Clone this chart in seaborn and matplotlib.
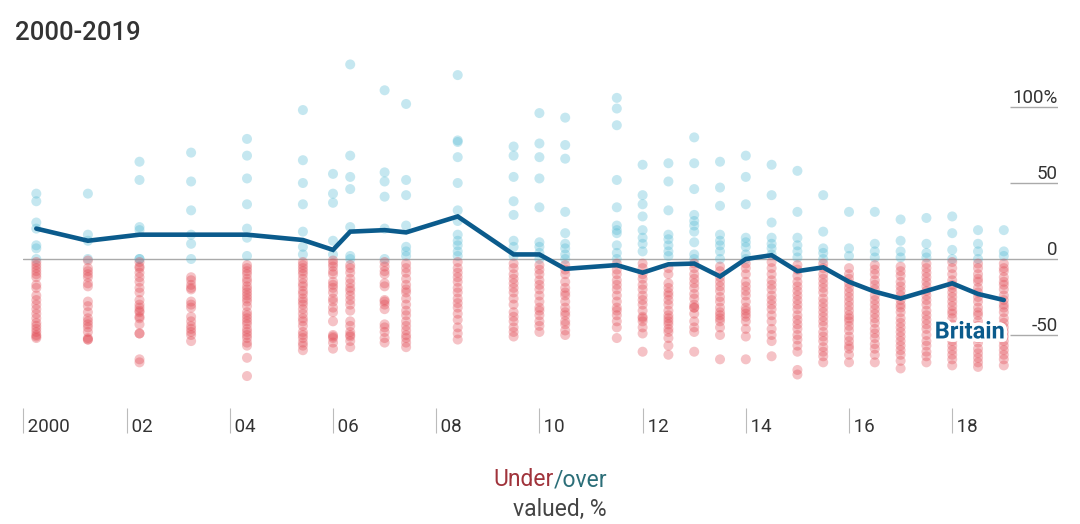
import matplotlib
matplotlib.use("Agg")
import matplotlib.pyplot as plt
import matplotlib.patheffects as pe
import seaborn as sns
import pandas as pd

# ---------------- data ----------------
dates = ["2000-04", "2001-04", "2002-04", "2003-04", "2004-05", "2005-06",
         "2006-01", "2006-05", "2007-01", "2007-06", "2008-06", "2009-07",
         "2010-01", "2010-07", "2011-07", "2012-01", "2012-07", "2013-01",
         "2013-07", "2014-01", "2014-07", "2015-01", "2015-07", "2016-01",
         "2016-07", "2017-01", "2017-07", "2018-01", "2018-07", "2019-01"]

britain = [20, 12, 16, 16, 16, 12.5, 6, 18, 19, 17.5, 28, 3,
           3, -6.5, -4, -9, -3.5, -3, -11.5, 0, 2.5, -8, -5.5, -15,
           -21.5, -26, -21, -16, -23, -27]

v2000_04 = [43, 38, 24, 20, 9, 7, 0, -2, -4, -6, -8, -10, -12, -17, -19, -24, -27,
            -30, -33, -36, -39, -42, -44, -46, -48, -50, -51, -52]
v2001_04 = [43, 16, 12, 0, -1, -6, -8, -10, -12, -16, -18, -28, -31, -35, -39, -41,
            -43, -45, -48, -52, -53, -53]
v2002_04 = [64, 52, 21, 19, 0, 0, -2, -5, -6, -9, -12, -15, -19, -22, -27, -30, -32,
            -34, -35, -38, -39, -43, -49, -49, -66, -68]
v2003_04 = [70, 51, 32, 16, 10, 0, -12, -14, -17, -19, -20, -28, -30, -32, -38, -41,
            -44, -46, -48, -50, -54]
v2004_05 = [79, 68, 53, 36, 20, 14, 2, -4, -6, -8, -10, -13, -15, -18, -20, -22, -24,
            -26, -28, -31, -35, -37, -39, -41, -43, -46, -48, -50, -52, -55, -57, -65, -77]
v2005_06 = [98, 65, 50, 36, 18, 8, 3, -2, -4, -6, -8, -10, -13, -16, -18, -21, -23,
            -26, -28, -30, -33, -36, -39, -41, -44, -48, -50, -52, -55, -57, -60]
v2006_01 = [56, 43, 37, 12, 3, -1, -3, -5, -8, -10, -15, -17, -19, -22, -26, -28, -32,
            -35, -41, -50, -51, -52, -55, -59]
v2006_05 = [128, 68, 54, 46, 21, 2, 0, -4, -6, -9, -13, -16, -19, -21, -24, -27, -30,
            -34, -41, -44, -48, -50, -51, -54, -58]
v2007_01 = [111, 57, 51, 41, 20, 0, -2, -5, -8, -10, -16, -18, -27, -28, -30, -33,
            -43, -45, -48, -52, -55]
v2007_06 = [102, 52, 42, 22, 8, 5, 2, -3, -6, -9, -13, -17, -20, -22, -26, -30, -34,
            -37, -41, -44, -47, -50, -52, -55, -58]
v2008_06 = [121, 78, 77, 67, 50, 32, 25, 16, 12, 9, 5, 2, -2, -6, -9, -12, -15, -19,
            -22, -26, -29, -32, -36, -40, -45, -49, -53]
v2009_07 = [74, 68, 54, 38, 29, 12, 8, 2, -3, -6, -10, -13, -16, -19, -22, -26, -30,
            -35, -38, -41, -45, -48, -51]
v2010_01 = [96, 76, 67, 53, 34, 11, 8, 4, 0, -4, -7, -10, -14, -17, -20, -24, -28,
            -32, -34, -37, -41, -44, -48]
v2010_07 = [93, 75, 66, 31, 17, 10, 7, 3, 0, -4, -7, -10, -15, -19, -22, -24, -28,
            -32, -35, -37, -41, -43, -47, -50]
v2011_07 = [106, 99, 88, 52, 34, 22, 19, 17, 9, 4, 0, -3, -7, -10, -14, -17, -20,
            -24, -28, -32, -34, -37, -41, -45, -52]
v2012_01 = [62, 42, 36, 28, 19, 14, 10, 5, -3, -6, -10, -13, -17, -20, -24, -27, -30,
            -34, -38, -39, -41, -45, -49, -61]
v2012_07 = [63, 51, 32, 16, 13, 9, 5, 2, -6, -10, -16, -19, -22, -24, -27, -30, -34,
            -37, -39, -41, -43, -46, -48, -52, -57, -63]
v2013_01 = [80, 63, 46, 29, 25, 22, 18, 11, 3, 0, -3, -6, -10, -13, -16, -19, -23,
            -26, -30, -32, -32, -36, -41, -45, -48, -61]
v2013_07 = [64, 47, 35, 16, 12, 9, 5, 0, -5, -8, -12, -15, -18, -21, -25, -28, -32,
            -35, -37, -39, -41, -45, -50, -66]
v2014_01 = [68, 54, 36, 14, 11, 8, 3, 0, -3, -6, -10, -15, -18, -21, -24, -28, -32,
            -34, -36, -38, -41, -46, -51, -66]
v2014_07 = [62, 42, 24, 14, 10, 7, 3, -2, -6, -10, -14, -17, -20, -24, -27, -30, -33,
            -37, -41, -46, -50, -54, -64]
v2015_01 = [58, 31, 14, 9, 5, 1, -4, -7, -11, -15, -18, -21, -24, -27, -30, -33, -37,
            -40, -43, -46, -50, -53, -57, -61, -73, -76]
v2015_07 = [42, 18, 7, 4, 0, -3, -6, -10, -13, -16, -19, -22, -26, -29, -32, -35, -38,
            -41, -44, -48, -51, -54, -58, -61, -64, -68]
v2016_01 = [31, 7, 2, -6, -10, -13, -16, -19, -22, -25, -28, -31, -34, -37, -39, -41,
            -44, -47, -51, -54, -57, -59, -63, -68]
v2016_07 = [31, 10, 5, 1, -4, -7, -10, -14, -17, -20, -24, -27, -30, -33, -36, -39,
            -42, -46, -49, -52, -56, -59, -63, -68]
v2017_01 = [26, 12, 5, 1, -5, -8, -11, -15, -18, -21, -24, -27, -30, -32, -35, -39,
            -42, -45, -48, -51, -54, -57, -60, -63, -67, -72]
v2017_07 = [27, 10, 4, 1, -3, -6, -9, -12, -15, -18, -21, -24, -27, -30, -34, -37,
            -40, -43, -46, -50, -54, -57, -61, -64, -68]
v2018_01 = [28, 17, 6, 0, -2, -6, -10, -14, -17, -19, -22, -25, -28, -31, -34, -36,
            -39, -43, -46, -50, -54, -57, -60, -63, -66, -70]
v2018_07 = [19, 10, 5, 0, -3, -6, -10, -13, -15, -19, -22, -25, -28, -32, -35, -37,
            -41, -44, -48, -52, -55, -59, -62, -65, -68, -71]
v2019_01 = [19, 5, 2, -3, -6, -8, -12, -15, -17, -20, -24, -27, -30, -32, -35, -39,
            -42, -45, -48, -51, -54, -57, -60, -63, -66, -70]

columns = [v2000_04, v2001_04, v2002_04, v2003_04, v2004_05, v2005_06,
           v2006_01, v2006_05, v2007_01, v2007_06, v2008_06, v2009_07,
           v2010_01, v2010_07, v2011_07, v2012_01, v2012_07, v2013_01,
           v2013_07, v2014_01, v2014_07, v2015_01, v2015_07, v2016_01,
           v2016_07, v2017_01, v2017_07, v2018_01, v2018_07, v2019_01]

tick_years = [2000, 2002, 2004, 2006, 2008, 2010, 2012, 2014, 2016, 2018]
tick_labels = ["2000", "02", "04", "06", "08", "10", "12", "14", "16", "18"]
y_ticks = [100, 50, 0, -50]
y_labels = ["100%", "50", "0", "-50"]

# ---------------- build frames ----------------
def dec_year(d):
    y, m = d.split("-")
    return int(y) + (int(m) - 1) / 12.0

rows = []
for d, vals in zip(dates, columns):
    for v in vals:
        rows.append({"date": dec_year(d), "value": v,
                     "side": "over" if v >= 0 else "under"})
df = pd.DataFrame(rows)
df_gb = pd.DataFrame({"date": [dec_year(d) for d in dates], "value": britain})

# ---------------- style ----------------
sns.set_theme(style="white")
plt.rcParams["font.family"] = ["Roboto", "DejaVu Sans"]

RED = "#e14852"
CYAN = "#50b9d2"
BLUE = "#0b5b8c"
TXT = "#333333"
GRID = "#aaaaaa"

W, H = 1080, 524
fig = plt.figure(figsize=(W / 100, H / 100), dpi=100)
left_px, right_px, top_px, bot_px = 23.4, 1058, 53.8, 388.2
ax = fig.add_axes([left_px / W, 1 - bot_px / H,
                   (right_px - left_px) / W, (bot_px - top_px) / H])

ax.axhline(0, color=GRID, lw=1.0, zorder=1)
ax.hlines([100, 50, -50], 0.954, 1.0, transform=ax.get_yaxis_transform(),
          color=GRID, lw=1.0, zorder=1)

sns.scatterplot(data=df, x="date", y="value", hue="side",
                palette={"under": RED, "over": CYAN}, s=52, alpha=0.33,
                linewidth=0, legend=False, ax=ax, zorder=2)
sns.lineplot(data=df_gb, x="date", y="value", color=BLUE, lw=3.3,
             ax=ax, zorder=4, solid_joinstyle="miter")

ax.text(2019.02, -48, "Britain", ha="right", va="center", color=BLUE,
        fontsize=17, fontweight="semibold", zorder=5,
        path_effects=[pe.withStroke(linewidth=5, foreground="white")])

ax.set_xlim(2000, 2020.05)
ax.set_ylim(-85, 135)
ax.set_xlabel("")
ax.set_ylabel("")

for s in ["top", "left", "right"]:
    ax.spines[s].set_visible(False)
ax.spines["bottom"].set_position(("outward", 32.4))
ax.spines["bottom"].set_color("none")

ax.set_xticks(tick_years)
ax.set_xticklabels([" " + t for t in tick_labels])
ax.tick_params(axis="x", direction="in", length=18, width=0.8, color="#bbbbbb",
               pad=-11, labelsize=13.5, labelcolor=TXT, bottom=True)
for lab in ax.get_xticklabels():
    lab.set_horizontalalignment("left")

ax.yaxis.tick_right()
ax.set_yticks(y_ticks)
ax.set_yticklabels(y_labels)
ax.tick_params(axis="y", length=0, pad=0, labelsize=13.5, labelcolor=TXT)
for lab in ax.get_yticklabels():
    lab.set_horizontalalignment("right")
    lab.set_verticalalignment("bottom")

# title
fig.text(15 / W, 1 - 40 / H, "2000-2019", ha="left", va="baseline",
         fontsize=18.5, fontweight="medium", color=TXT)

# bottom caption
xr = 607 / W
t_over = fig.text(xr, 1 - 486 / H, "/over", ha="right", va="baseline",
                  fontsize=16.5, color="#2b6e78")
fig.canvas.draw()
wb = t_over.get_window_extent().width
fig.text(xr - wb / W, 1 - 486 / H, "Under", ha="right", va="baseline",
         fontsize=16.5, color="#a0333b")
fig.text(xr, 1 - 516 / H, "valued, %", ha="right", va="baseline",
         fontsize=16.5, color="#444444")

fig.savefig("out.png", dpi=100)
